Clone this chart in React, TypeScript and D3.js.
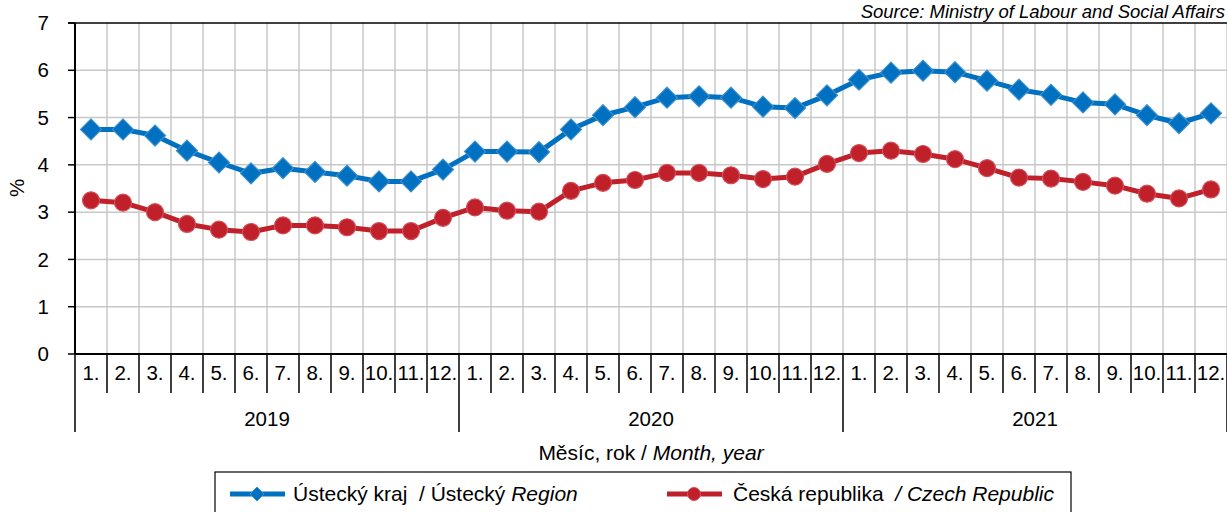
import React from 'react';
import * as d3 from 'd3';

// months 1..12 for 2019-2021
const years = ['2019', '2020', '2021'];
const monthLabels = ['1.', '2.', '3.', '4.', '5.', '6.', '7.', '8.', '9.', '10.', '11.', '12.'];
const yTicks = [0, 1, 2, 3, 4, 5, 6, 7];

const usteckyValues = [
  4.75, 4.75, 4.62, 4.3, 4.05, 3.82, 3.93, 3.85, 3.77, 3.65, 3.65, 3.9,
  4.28, 4.28, 4.27, 4.75, 5.05, 5.22, 5.42, 5.45, 5.42, 5.23, 5.2, 5.47,
  5.8, 5.95, 5.99, 5.96, 5.78, 5.59, 5.48, 5.32, 5.28, 5.05, 4.88, 5.09,
];
const czechValues = [
  3.25, 3.2, 3.0, 2.75, 2.63, 2.58, 2.72, 2.72, 2.68, 2.6, 2.6, 2.88,
  3.1, 3.03, 3.01, 3.45, 3.62, 3.68, 3.83, 3.83, 3.78, 3.7, 3.75, 4.02,
  4.25, 4.3, 4.23, 4.12, 3.93, 3.73, 3.71, 3.64, 3.56, 3.39, 3.29, 3.48,
];

const BLUE = '#0070c0';
const RED = '#c0202a';
const FONT = '"Liberation Sans", Arial, sans-serif';

const width = 1227;
const height = 512;
const left = 75;
const right = 1227;
const top = 23;
const bottom = 354;
const fs = 20.5;

const App: React.FC = () => {
  const keys = d3.range(usteckyValues.length);
  const x = d3.scaleBand<number>().domain(keys).range([left, right]);
  const y = d3.scaleLinear().domain([0, 7]).range([bottom, top]);
  const bw = x.bandwidth();
  const cx = (i: number) => (x(i) as number) + bw / 2;

  const line = d3
    .line<number>()
    .x((_, i) => cx(i))
    .y((d) => y(d));

  const diamond = (px: number, py: number, r: number) =>
    `M${px},${py - r}L${px + r},${py}L${px},${py + r}L${px - r},${py}Z`;

  const boundaries = d3.range(usteckyValues.length + 1).map((i) => left + i * bw);

  return (
    <div style={{ position: 'absolute', left: 0, top: 0 }}>
      <svg width={width} height={height} style={{ fontFamily: FONT, display: 'block' }}>
        <rect width={width} height={height} fill="#fff" />

        {/* grid */}
        {boundaries.slice(1).map((bx, i) => (
          <line key={'vg' + i} x1={bx} x2={bx} y1={top} y2={bottom} stroke="#c8c8c8" strokeWidth={1.5} />
        ))}
        {yTicks.slice(1, -1).map((t) => (
          <line key={'hg' + t} x1={left} x2={right} y1={y(t)} y2={y(t)} stroke="#c8c8c8" strokeWidth={1.5} />
        ))}
        <line x1={left - 7} x2={right} y1={y(7)} y2={y(7)} stroke="#000" strokeWidth={1.5} />

        {/* y axis */}
        <line x1={left} x2={left} y1={top} y2={bottom} stroke="#000" strokeWidth={2} />
        {yTicks.map((t) => (
          <g key={'yt' + t}>
            <line x1={left - 7} x2={left} y1={y(t)} y2={y(t)} stroke="#000" strokeWidth={1.5} />
            <text x={49} y={y(t)} dy="0.35em" textAnchor="end" fontSize={fs}>
              {t}
            </text>
          </g>
        ))}
        <text transform={`translate(24,188) rotate(-90)`} textAnchor="middle" fontSize={fs}>
          %
        </text>

        {/* x axis */}
        <line x1={left} x2={right} y1={bottom} y2={bottom} stroke="#000" strokeWidth={2} />
        {boundaries.map((bx, i) => (
          <line
            key={'xt' + i}
            x1={bx}
            x2={bx}
            y1={bottom}
            y2={i % 12 === 0 ? 432 : 393}
            stroke="#000"
            strokeWidth={1.5}
          />
        ))}
        {keys.map((i) => (
          <text key={'ml' + i} x={cx(i)} y={380} textAnchor="middle" fontSize={fs}>
            {monthLabels[i % 12]}
          </text>
        ))}
        {years.map((yr, j) => (
          <text key={yr} x={left + (j * 12 + 6) * bw} y={426} textAnchor="middle" fontSize={fs}>
            {yr}
          </text>
        ))}
        <text x={651} y={460} textAnchor="middle" fontSize={21}>
          Měsíc, rok / <tspan fontStyle="italic">Month, year</tspan>
        </text>

        <text x={1225} y={18} textAnchor="end" fontSize={18.5} fontStyle="italic">
          Source: Ministry of Labour and Social Affairs
        </text>

        {/* series */}
        <path d={line(czechValues) || ''} fill="none" stroke={RED} strokeWidth={5} strokeLinejoin="round" />
        {czechValues.map((v, i) => (
          <circle key={'c' + i} cx={cx(i)} cy={y(v)} r={8.5} fill={RED} stroke="#d0505a" strokeWidth={1.2} />
        ))}
        <path d={line(usteckyValues) || ''} fill="none" stroke={BLUE} strokeWidth={5} strokeLinejoin="round" />
        {usteckyValues.map((v, i) => (
          <path key={'u' + i} d={diamond(cx(i), y(v), 10.5)} fill={BLUE} stroke="#3a8fd0" strokeWidth={1.2} />
        ))}

        {/* legend */}
        <rect x={215} y={472} width={856} height={60} fill="#fff" stroke="#000" strokeWidth={1.2} />
        <line x1={230} x2={285} y1={494} y2={494} stroke={BLUE} strokeWidth={5} />
        <path d={diamond(257, 494, 7)} fill={BLUE} stroke="#3a8fd0" strokeWidth={1} />
        <text x={293} y={501} fontSize={21} style={{ whiteSpace: 'pre' }}>
          {'Ústecký kraj  / Ústecký '}
          <tspan fontStyle="italic">Region</tspan>
        </text>
        <line x1={667} x2={722} y1={494} y2={494} stroke={RED} strokeWidth={5} />
        <circle cx={694} cy={494} r={6.5} fill={RED} stroke="#d0505a" strokeWidth={1} />
        <text x={733} y={501} fontSize={21} style={{ whiteSpace: 'pre' }}>
          {'Česká republika  '}
          <tspan fontStyle="italic">/ Czech Republic</tspan>
        </text>
      </svg>
    </div>
  );
};

export default App;
